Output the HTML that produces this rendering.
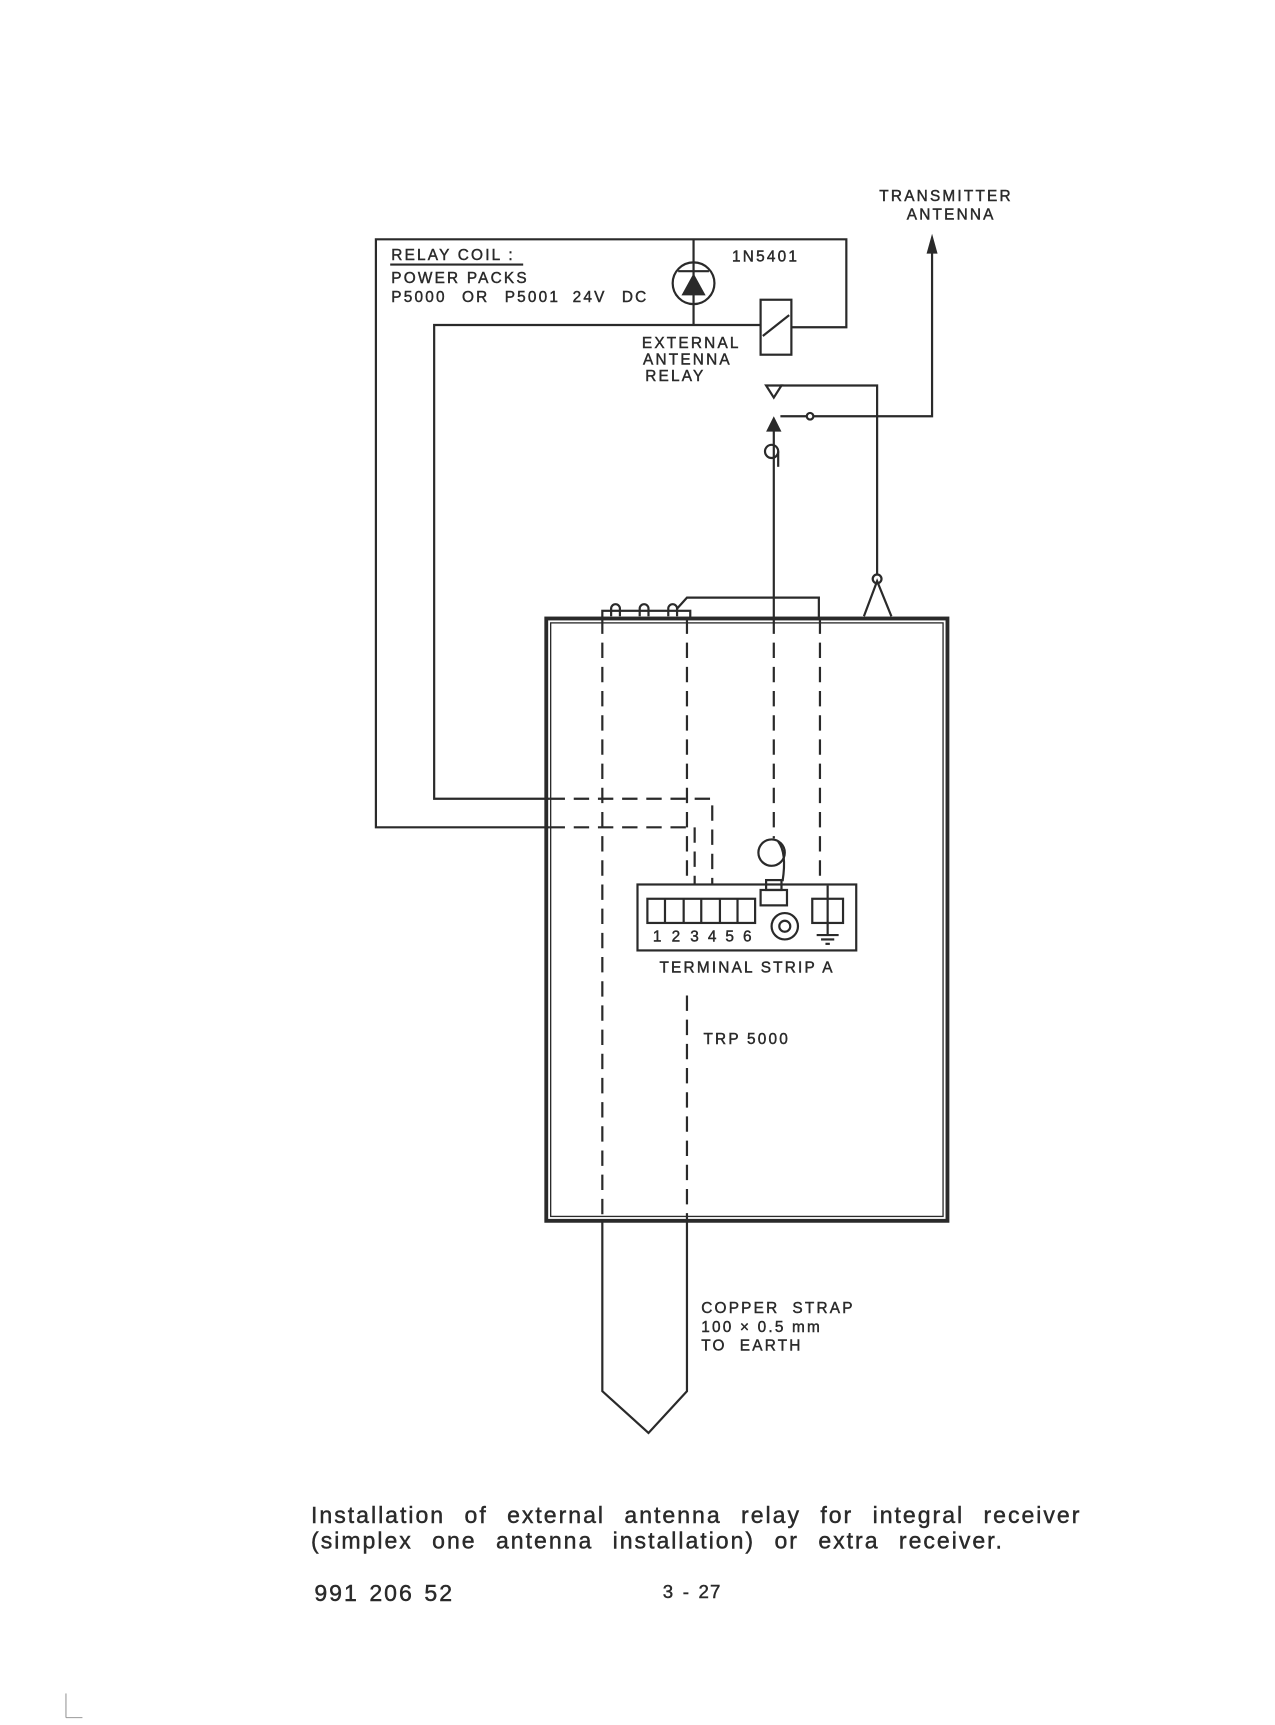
<!DOCTYPE html>
<html><head><meta charset="utf-8"><style>
html,body{margin:0;padding:0;background:#fff;}
svg{display:block;}
text{font-family:"Liberation Sans","DejaVu Sans",sans-serif;fill:#2a2a2a;stroke:#2a2a2a;stroke-width:0.4;}
</style></head><body>
<svg width="1275" height="1725" viewBox="0 0 1160 1568" xmlns="http://www.w3.org/2000/svg">
<g stroke="#2a2a2a" stroke-width="2" fill="none">
<polyline points="500,752 342,752 342,217 770,217 770,297 720,297"/>
<polyline points="500,726 395,726 395,295 692,295"/>
<line x1="631" y1="217" x2="631" y2="295"/>
<circle cx="631" cy="257" r="19"/>
<line x1="617" y1="246" x2="645" y2="246"/>
<rect x="692" y="272" width="28" height="50"/>
<line x1="694" y1="305" x2="718" y2="286"/>
<g stroke-dasharray="14,8">
<polyline points="500,726 648,726 648,805"/>
<polyline points="500,752 632,752 632,805"/>
<line x1="548" y1="562" x2="548" y2="1110"/>
<line x1="625" y1="562" x2="625" y2="804"/>
<line x1="625" y1="905" x2="625" y2="1110"/>
<line x1="704" y1="562" x2="704" y2="762"/>
<line x1="746" y1="562" x2="746" y2="805"/>
</g>
<polyline points="710,350 798,350 798,522"/>
<polyline points="710,378 848,378 848,220"/>
<circle cx="737" cy="378" r="3" fill="#fff"/>
<line x1="704" y1="390" x2="704" y2="562"/>
<circle cx="702" cy="410" r="6"/>
<line x1="708" y1="410" x2="708" y2="424"/>
<circle cx="798" cy="526" r="4"/>
<polyline points="786,560 798,528 811,560"/>
<rect x="497" y="562" width="365" height="548" stroke-width="3.5"/>
<rect x="501" y="566" width="357" height="540" stroke-width="1.2"/>
<rect x="548" y="555" width="80" height="7"/>
<path d="M556,560 v-7 a4,4 0 0 1 8,0 v7 M582,560 v-7 a4,4 0 0 1 8,0 v7 M608,560 v-7 a4,4 0 0 1 8,0 v7"/>
<polyline points="616,553 625,543 745,543 745,562"/>
<polyline points="548,1110 548,1265 590,1303 625,1265 625,1110"/>
<rect x="580" y="804" width="199" height="60" fill="#fff"/>
<rect x="589" y="817" width="98" height="22"/>
<line x1="605" y1="817" x2="605" y2="839"/><line x1="622" y1="817" x2="622" y2="839"/>
<line x1="638" y1="817" x2="638" y2="839"/><line x1="655" y1="817" x2="655" y2="839"/>
<line x1="671" y1="817" x2="671" y2="839"/>
<circle cx="702" cy="775" r="12"/>
<path d="M708,765 q8,10 4,36"/>
<rect x="697" y="800" width="14" height="9"/>
<rect x="692" y="809" width="24" height="14"/>
<circle cx="714" cy="842" r="12"/><circle cx="714" cy="842" r="5"/>
<rect x="739" y="817" width="28" height="22"/>
<line x1="753" y1="805" x2="753" y2="850"/>
<line x1="743" y1="850" x2="763" y2="850"/><line x1="747" y1="854" x2="759" y2="854"/><line x1="751" y1="858" x2="755" y2="858"/>
<line x1="355" y1="240" x2="476" y2="240"/>
</g>
<polygon points="620,268 642,268 631,248" fill="#2a2a2a"/>
<polygon points="697,350 711,350 704,361" fill="#fff" stroke="#2a2a2a" stroke-width="2"/>
<polygon points="697,392 711,392 704,378" fill="#2a2a2a"/>
<polygon points="843,230 853,230 848,212" fill="#2a2a2a"/>
<g font-size="14" letter-spacing="2">
<text x="800" y="182">TRANSMITTER</text>
<text x="825" y="199">ANTENNA</text>
<text x="356" y="236">RELAY COIL :</text>
<text x="356" y="257">POWER PACKS</text>
<text x="356" y="274" word-spacing="8">P5000 OR P5001 <tspan x="521">24V DC</tspan></text>
<text x="666" y="237">1N5401</text>
<text x="584" y="316">EXTERNAL</text>
<text x="585" y="331">ANTENNA</text>
<text x="587" y="346">RELAY</text>
<text x="594" y="856" letter-spacing="0">1</text><text x="611" y="856" letter-spacing="0">2</text>
<text x="628" y="856" letter-spacing="0">3</text><text x="644" y="856" letter-spacing="0">4</text>
<text x="660" y="856" letter-spacing="0">5</text><text x="676" y="856" letter-spacing="0">6</text>
<text x="600" y="884">TERMINAL STRIP A</text>
<text x="640" y="949">TRP 5000</text>
<text x="638" y="1194" word-spacing="6">COPPER STRAP</text>
<text x="638" y="1211">100 × 0.5 mm</text>
<text x="638" y="1228" word-spacing="6">TO EARTH</text>
</g>
<g font-size="21" letter-spacing="1.8" word-spacing="10">
<text x="283" y="1385">Installation of external antenna relay for integral receiver</text>
<text x="283" y="1408">(simplex one antenna installation) or extra receiver.</text>
<text x="286" y="1456" word-spacing="2">991 206 52</text>
<text x="603" y="1453" font-size="17" word-spacing="2" letter-spacing="1">3 - 27</text>
</g>
<g stroke="#999" stroke-width="1">
<line x1="60" y1="1540" x2="60" y2="1562"/><line x1="60" y1="1562" x2="75" y2="1562"/>
</g>
</svg>
</body></html>
